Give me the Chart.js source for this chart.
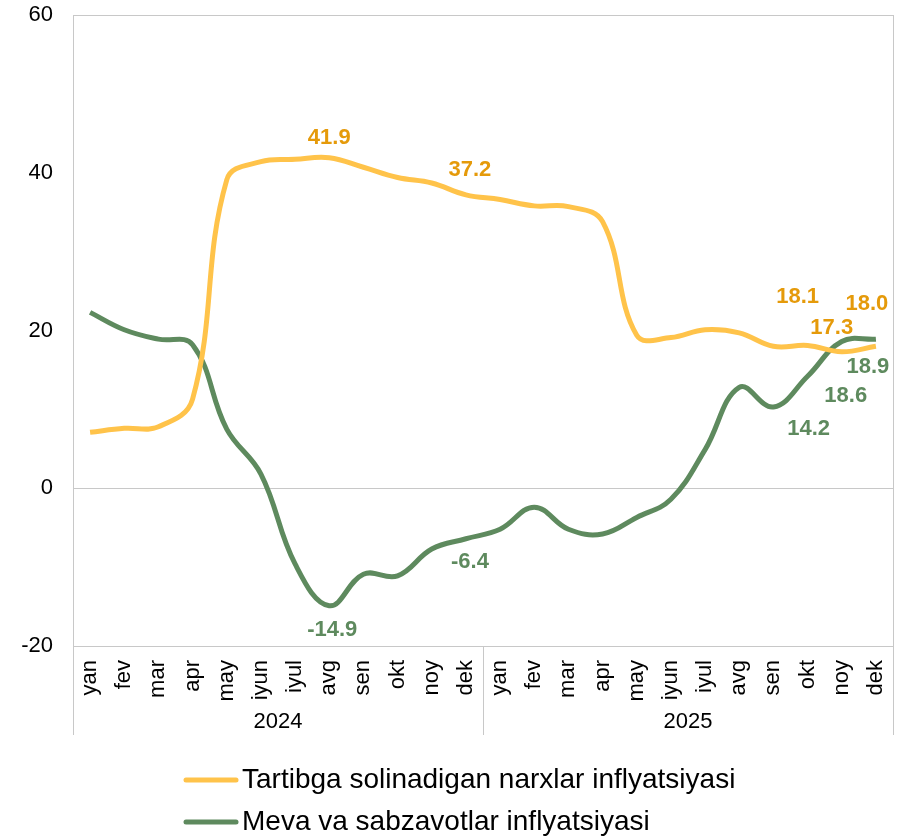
<!DOCTYPE html>
<html>
<head>
<meta charset="utf-8">
<script src="https://cdn.jsdelivr.net/npm/chart.js@4.4.1/dist/chart.umd.min.js"></script>
<style>
  html, body { margin: 0; padding: 0; background: #fff; }
</style>
</head>
<body>
<canvas id="lineChart" width="903" height="838"></canvas>
<script>
const months = ["yan", "fev", "mar", "apr", "may", "iyun", "iyul", "avg", "sen", "okt", "noy", "dek"];
const years = ["2024", "2025"];
const categories = years.flatMap(() => months);

const regulatedPrices = [7.1, 7.6, 7.8, 11.3, 39.1, 41.4, 41.7, 41.9, 40.7, 39.4, 38.7, 37.2,
                         36.6, 35.8, 35.7, 33.8, 19.4, 19.1, 20.1, 19.7, 18.0, 18.1, 17.3, 18.0];
const fruitVegPrices = [22.3, 20.1, 18.9, 18.2, 7.5, 1.8, -9.6, -14.9, -10.9, -11.1, -7.7, -6.4,
                        -5.2, -2.4, -5.2, -5.8, -3.7, -1.4, 4.9, 12.8, 10.3, 14.2, 18.6, 18.9];

const yTicks = [-20, 0, 20, 40, 60];

const seriesNames = ["Tartibga solinadigan narxlar inflyatsiyasi", "Meva va sabzavotlar inflyatsiyasi"];

// which points get a value label, and where the label sits relative to the point (px)
const regulatedLabelShift = { 7: [0, -20], 11: [4, -25], 21: [-10, -49], 22: [-10, -24], 23: [-9, -42] };
const fruitVegLabelShift = { 7: [3, 24], 11: [4, 23], 21: [1, 53], 22: [4, 54], 23: [-8, 28] };

const yellow = "#FFC34A";
const green = "#5E8A5E";
const orangeText = "#E59A0A";
const greenText = "#5E8A5E";
const frameColor = "#C8C8C8";
const fontFamily = "'Liberation Sans', Arial, sans-serif";

const valueLabels = {
    id: "valueLabels",
    afterDatasetsDraw(chart) {
        const ctx = chart.ctx;
        const shifts = [regulatedLabelShift, fruitVegLabelShift];
        const colors = [orangeText, greenText];
        ctx.save();
        ctx.font = "bold 22px " + fontFamily;
        ctx.textAlign = "center";
        ctx.textBaseline = "middle";
        chart.data.datasets.forEach((ds, di) => {
            const meta = chart.getDatasetMeta(di);
            ctx.fillStyle = colors[di];
            Object.keys(shifts[di]).forEach((k) => {
                const i = +k;
                const pt = meta.data[i];
                const s = shifts[di][k];
                ctx.fillText(ds.data[i].toFixed(1), pt.x + s[0], pt.y + s[1]);
            });
        });
        ctx.restore();
    }
};

const frameAndLegend = {
    id: "frameAndLegend",
    afterDraw(chart) {
        const ctx = chart.ctx;
        const a = chart.chartArea;
        const x = chart.scales.x;
        ctx.save();
        ctx.strokeStyle = frameColor;
        ctx.lineWidth = 1;
        ctx.strokeRect(Math.round(a.left) + 0.5, Math.round(a.top) + 0.5,
                       Math.round(a.right - a.left), Math.round(a.bottom - a.top));

        // year group separators and labels
        const bottom = a.bottom + 89;
        const step = x.getPixelForValue(1) - x.getPixelForValue(0);
        const bounds = [a.left];
        years.forEach((y, yi) => {
            bounds.push(x.getPixelForValue((yi + 1) * months.length - 1) + step / 2);
        });
        ctx.beginPath();
        bounds.forEach((b) => {
            const bx = Math.round(b) + 0.5;
            ctx.moveTo(bx, a.bottom);
            ctx.lineTo(bx, bottom);
        });
        ctx.stroke();

        ctx.fillStyle = "#000";
        ctx.font = "22px " + fontFamily;
        ctx.textAlign = "center";
        ctx.textBaseline = "middle";
        years.forEach((y, yi) => {
            ctx.fillText(y, (bounds[yi] + bounds[yi + 1]) / 2, a.bottom + 76);
        });

        // legend
        const legendColors = [yellow, green];
        ctx.font = "28px " + fontFamily;
        ctx.textAlign = "left";
        seriesNames.forEach((name, i) => {
            const ly = 780 + i * 42;
            ctx.strokeStyle = legendColors[i];
            ctx.lineWidth = 5;
            ctx.lineCap = "round";
            ctx.beginPath();
            ctx.moveTo(186, ly);
            ctx.lineTo(236, ly);
            ctx.stroke();
            ctx.fillStyle = "#000";
            ctx.fillText(name, 242, ly);
        });
        ctx.restore();
    }
};

new Chart("lineChart", {
    type: "line",
    data: {
        labels: categories,
        datasets: [{
            label: seriesNames[0],
            data: regulatedPrices,
            borderColor: yellow,
            borderWidth: 5,
            pointRadius: 0,
            tension: 0.4,
            fill: false
        }, {
            label: seriesNames[1],
            data: fruitVegPrices,
            borderColor: green,
            borderWidth: 5,
            pointRadius: 0,
            tension: 0.4,
            fill: false
        }]
    },
    options: {
        responsive: false,
        animation: false,
        layout: { padding: { top: 15, right: 10, bottom: 100, left: 0 } },
        plugins: {
            legend: { display: false },
            tooltip: { enabled: false }
        },
        scales: {
            x: {
                offset: true,
                grid: { display: false },
                border: { display: false },
                ticks: {
                    color: "#000",
                    font: { size: 22, family: fontFamily },
                    minRotation: 90,
                    maxRotation: 90,
                    autoSkip: false,
                    padding: 6
                },
                afterFit(scale) {
                    scale.height = 92;
                    scale.paddingLeft = 0;
                    scale.paddingRight = 0;
                }
            },
            y: {
                min: yTicks[0],
                max: yTicks[yTicks.length - 1],
                afterBuildTicks(scale) { scale.ticks = yTicks.map((v) => ({ value: v })); },
                grid: {
                    drawTicks: false,
                    color: (c) => (c.tick && c.tick.value === 0 ? frameColor : "rgba(0,0,0,0)")
                },
                border: { display: false },
                ticks: {
                    color: "#000",
                    font: { size: 22, family: fontFamily },
                    padding: 20
                },
                afterFit(scale) {
                    scale.width = 73;
                    scale.paddingTop = 0;
                    scale.paddingBottom = 0;
                }
            }
        }
    },
    plugins: [valueLabels, frameAndLegend]
});
</script>
</body>
</html>
